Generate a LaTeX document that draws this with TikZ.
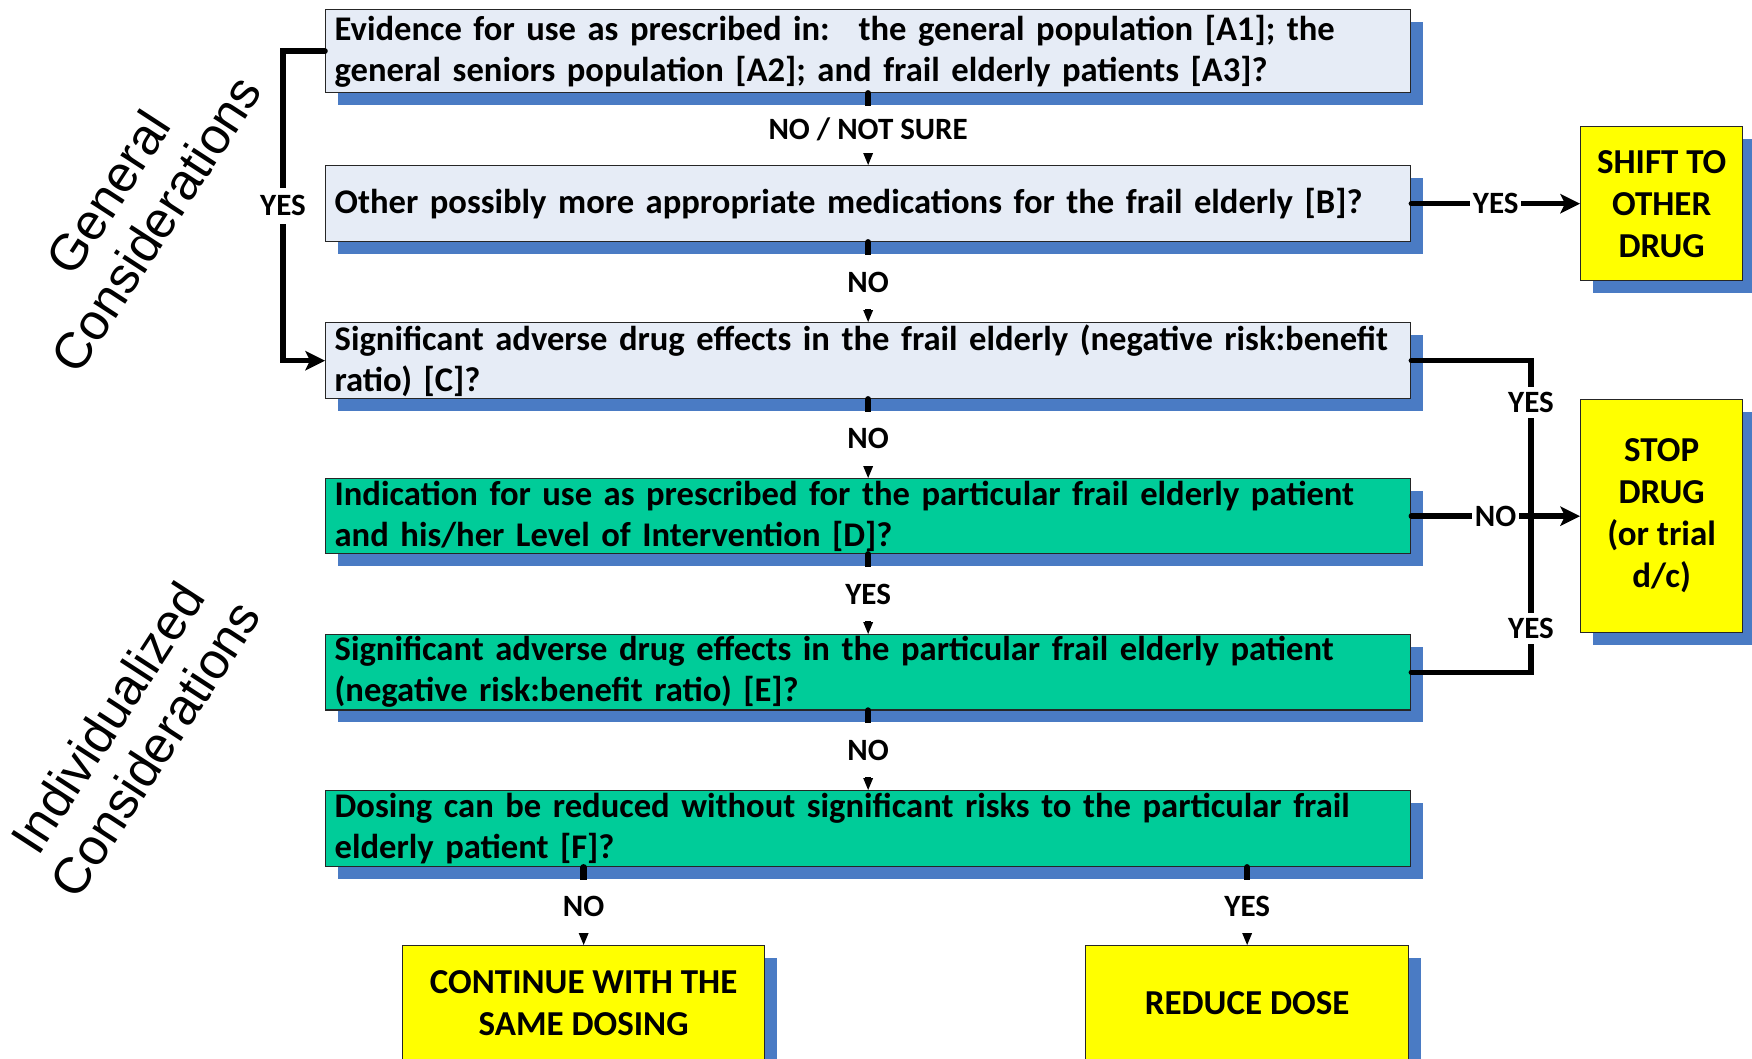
\documentclass[tikz,border=0pt]{standalone}
\usepackage{fontspec}
\setmainfont{Carlito}
\newfontfamily\arialf{Liberation Sans}
\usetikzlibrary{arrows.meta,shadows}
\definecolor{lightbox}{HTML}{E6ECF6}
\definecolor{greenbox}{HTML}{00CC99}
\definecolor{yellowbox}{HTML}{FFFF00}
\definecolor{shadowblue}{HTML}{4A7BC4}
\tikzset{
  shadowed/.style={drop shadow={shadow xshift=12pt, shadow yshift=-12pt, fill=shadowblue, opacity=1}},
  qbox/.style={draw=black!85, line width=1.3pt, anchor=north west, inner xsep=9pt, inner ysep=2pt,
    font=\fontsize{34.6}{41}\selectfont\bfseries, text width=1067pt, align=left,
    minimum width=1085pt, shadowed},
  gen/.style={qbox, fill=lightbox},
  ind/.style={qbox, fill=greenbox},
  ybox/.style={draw=black!85, line width=1.3pt, anchor=north west, fill=yellowbox, inner sep=2pt,
    font=\fontsize{35}{42}\selectfont\bfseries, align=center, shadowed},
  conn/.style={line width=5.5pt, line cap=round, black},
  smalltip/.style={conn, line width=6.5pt, -{Triangle[length=12pt,width=10pt,line width=0pt]}},
  bigtip/.style={conn, -{Stealth[length=20pt,width=20pt,inset=5pt,line width=0pt]}},
  lab/.style={fill=white, inner xsep=3pt, inner ysep=2pt, font=\fontsize{31}{33}\selectfont\bfseries},
  vlab/.style={lab, minimum height=#1},
  rot/.style={rotate=57, align=center, font=\arialf\fontsize{51}{57}\selectfont}
}
\begin{document}
\begin{tikzpicture}[x=1pt,y=-1pt]
\useasboundingbox (0,0) rectangle (1752,1058);
\clip (0,0) rectangle (1752,1058);

% side titles
\node[rot] (tgen) at (132,208) {General\\Considerations};
\node[rot] (tind) at (131,733) {Individualized\\Considerations};

% question boxes
\node[gen, minimum height=83pt] (b1) at (325,9) {Evidence for use as prescribed in:~ the general population [A1]; the\\general seniors population [A2]; and frail elderly patients [A3]?};
\node[gen, minimum height=76pt] (b2) at (325,165) {Other possibly more appropriate medications for the frail elderly [B]?};
\node[gen, minimum height=76pt] (b3) at (325,322) {Significant adverse drug effects in the frail elderly (negative risk:benefit\\ratio) [C]?};
\node[ind, minimum height=75pt] (b4) at (325,478) {Indication for use as prescribed for the particular frail elderly patient\\and his/her Level of Intervention [D]?};
\node[ind, minimum height=75pt] (b5) at (325,634) {Significant adverse drug effects in the particular frail elderly patient\\(negative risk:benefit ratio) [E]?};
\node[ind, minimum height=76pt] (b6) at (325,790) {Dosing can be reduced without significant risks to the particular frail\\elderly patient [F]?};

% outcome boxes
\node[ybox, minimum width=162pt, minimum height=154pt] (shift) at (1580,126) {SHIFT TO\\OTHER\\DRUG};
\node[ybox, minimum width=162pt, minimum height=233pt] (stop) at (1580,399) {STOP\\DRUG\\(or trial\\d/c)};
\node[ybox, minimum width=362pt, minimum height=115pt] (cont) at (402,945) {CONTINUE WITH THE\\SAME DOSING};
\node[ybox, minimum width=323pt, minimum height=115pt] (red) at (1085,945) {REDUCE DOSE};

% vertical connectors
\draw[smalltip] (b1.south) -- node[vlab=47pt]{NO / NOT SURE} (b2.north);
\draw[smalltip] (b2.south) -- node[vlab=54pt]{NO} (b3.north);
\draw[smalltip] (b3.south) -- node[vlab=54pt]{NO} (b4.north);
\draw[smalltip] (b4.south) -- node[vlab=54pt]{YES} (b5.north);
\draw[smalltip] (b5.south) -- node[vlab=54pt]{NO} (b6.north);
\draw[smalltip] (b6.south -| cont.north) -- node[vlab=53pt]{NO} (cont.north);
\draw[smalltip] (b6.south -| red.north) -- node[vlab=53pt]{YES} (red.north);

% left YES bracket
\draw[bigtip] (b1.west) -- ++(-42,0) |- node[lab, pos=0.25, inner ysep=8pt]{YES} (b3.west);

% right side
\draw[bigtip] (b2.east) -- node[lab]{YES} (shift.west);
\coordinate (jn) at (1531,515.5);
\draw[conn] (b3.east) -| node[lab, pos=0.635, inner ysep=5pt]{YES} (jn);
\draw[conn] (b5.east) -| node[lab, pos=0.64, inner ysep=5pt]{YES} (jn);
\draw[bigtip] (b4.east) -- node[lab]{NO} (stop.west);
\end{tikzpicture}
\end{document}
